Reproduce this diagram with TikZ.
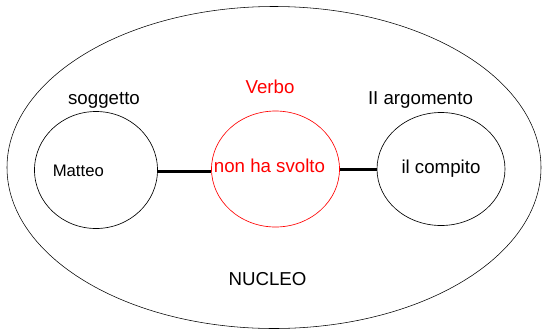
\documentclass[tikz,border=0pt]{standalone}
\usepackage{fontspec}
\setmainfont{Liberation Sans}
\usetikzlibrary{shapes.geometric}
\begin{document}
\begin{tikzpicture}[x=1pt,y=-1pt,
  lbl/.style={font=\fontsize{18.7}{20}\selectfont, inner sep=0pt, anchor=base},
  small/.style={font=\fontsize{16.7}{18}\selectfont, inner sep=0pt, anchor=base},
  ring/.style={draw, ellipse, inner sep=0pt, line width=0.65pt},
  conn/.style={line width=2.4pt}]
\useasboundingbox (0,0) rectangle (543,330);
\node[draw, ellipse, inner sep=0pt, line width=0.55pt, minimum width=534pt, minimum height=322pt] (nucleo) at (274,167.5) {};
\node[ring, minimum width=123pt, minimum height=117pt] (sog) at (96,170) {};
\node[ring, draw=red, minimum width=128pt, minimum height=116pt] (verb) at (275.5,169) {};
\node[ring, minimum width=128pt, minimum height=113pt] (arg) at (441,169) {};
\draw[conn] (sog.east |- 0,171.5) coordinate (a1) -- (a1 -| verb.west);
\draw[conn] (verb.east |- 0,169.5) coordinate (b1) -- (b1 -| arg.west);
\node[lbl] (t1) at (104,104) {soggetto};
\node[lbl, text=red] (t2) at (270,93.5) {Verbo};
\node[lbl] (t3) at (420.5,104.3) {II argomento};
\node[small] (t4) at (78.3,176) {Matteo};
\node[lbl, text=red] (t5) at (269.5,172.7) {non ha svolto};
\node[lbl] (t6) at (441,173) {il compito};
\node[lbl] (t7) at (267.5,285) {NUCLEO};
\end{tikzpicture}
\end{document}
